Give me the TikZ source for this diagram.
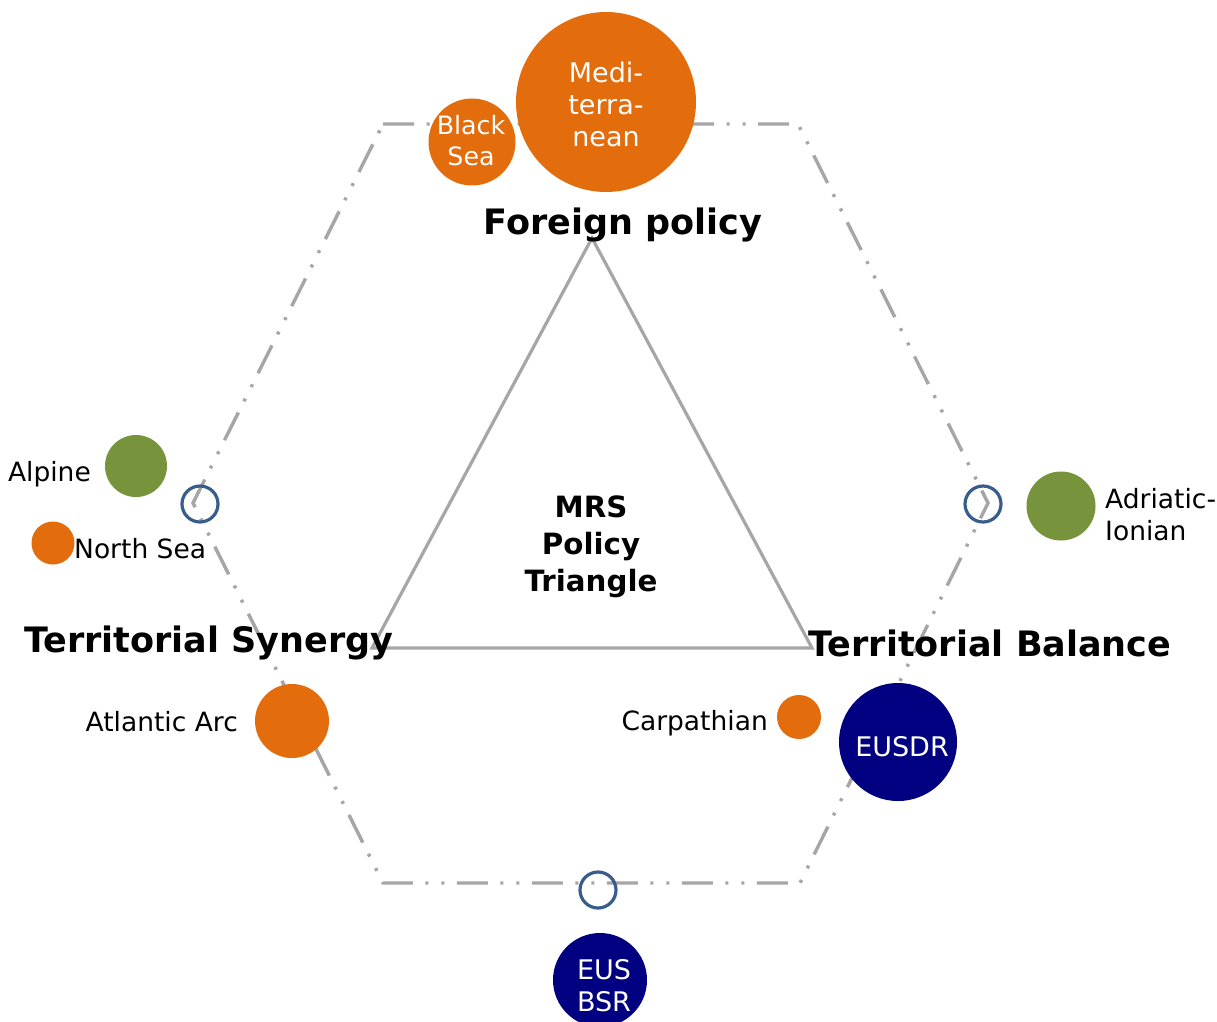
\documentclass[tikz,border=0pt]{standalone}
\usepackage{fontspec}
\setmainfont{DejaVu Sans}
\definecolor{mrsorange}{RGB}{227,108,12}
\definecolor{mrsgreen}{RGB}{119,147,60}
\definecolor{mrsnavy}{RGB}{0,0,128}
\definecolor{mrsblue}{RGB}{56,93,138}
\definecolor{mrsgray}{RGB}{166,166,166}
\begin{document}
\begin{tikzpicture}[x=1pt,y=-1pt,
  hexline/.style={draw=mrsgray,line width=3.4pt,dash pattern=on 31pt off 12.5pt on 3pt off 13pt on 3pt off 12.5pt},
  triline/.style={draw=mrsgray,line width=3.2pt,line join=miter},
  blob/.style={circle,inner sep=0pt,text=white,align=center,font=\fontsize{27}{32}\selectfont},
  ring/.style={circle,draw=mrsblue,line width=3.2pt,inner sep=0pt,minimum size=36pt},
  lab/.style={inner sep=0pt,font=\fontsize{26.5}{32}\selectfont,align=left},
  head/.style={inner sep=0pt,font=\bfseries\fontsize{35}{40}\selectfont},
  mrs/.style={inner sep=0pt,align=center,font=\bfseries\fontsize{29.3}{37}\selectfont}]
\useasboundingbox (0,0) rectangle (1217,1021);
% hexagon
\coordinate (h1) at (383,124);
\coordinate (h2) at (798,124);
\coordinate (h3) at (988,503);
\coordinate (h4) at (800,883);
\coordinate (h5) at (383,883);
\coordinate (h6) at (193,503);
\draw[hexline] (h1) -- (h2) -- (h3) -- (h4) -- (h5) -- (h6) -- cycle;
% triangle
\coordinate (t1) at (592,238);
\coordinate (t2) at (372,648);
\coordinate (t3) at (812,648);
\draw[triline] (t1) -- (t2) -- (t3) -- cycle;
% rings
\node[ring] (r1) at (200,504) {};
\node[ring] (r2) at (983,504) {};
\node[ring] (r3) at (598,890) {};
% circles
\node[blob,fill=mrsorange,minimum size=180pt] (med) at (606,102) {};
\node[blob] (medt) at (606,104) {Medi-\\terra-\\nean};
\node[blob,fill=mrsorange,minimum size=87pt] (black) at (472,142) {};
\node[blob,font=\fontsize{25.3}{31}\selectfont] (blackt) at (471,141) {Black\\Sea};
\node[blob,fill=mrsgreen,minimum size=62pt] (alpine) at (136,466) {};
\node[blob,fill=mrsorange,minimum size=43pt] (north) at (53,543) {};
\node[blob,fill=mrsgreen,minimum size=69pt] (adria) at (1061,506) {};
\node[blob,fill=mrsorange,minimum size=74pt] (atl) at (292,721) {};
\node[blob,fill=mrsorange,minimum size=44pt] (carp) at (799,717) {};
\node[blob,fill=mrsnavy,minimum size=118pt] (eusdr) at (898,742) {};
\node[blob] (eusdrt) at (902,747) {EUSDR};
\node[blob,fill=mrsnavy,minimum size=94pt] (eusbsr) at (600,980) {};
\node[blob] (eusbsrt) at (604,986) {EUS\\BSR};
% labels
\node[lab,anchor=east] (alpinel) at (91,474) {Alpine};
\node[lab,anchor=west] (northl) at (74,549) {North Sea};
\node[lab,anchor=west] (adrial) at (1105,515) {Adriatic-\\Ionian};
\node[lab,anchor=east] (atll) at (238,722) {Atlantic Arc};
\node[lab,anchor=east] (carpl) at (768,723) {Carpathian};
% headings
\node[head] (fp) at (623,225) {Foreign policy};
\node[head] (ts) at (209,643) {Territorial Synergy};
\node[head] (tb) at (990,643) {Territorial Balance};
\node[mrs] (mrst) at (591,547) {MRS\\Policy\\Triangle};
\end{tikzpicture}
\end{document}
